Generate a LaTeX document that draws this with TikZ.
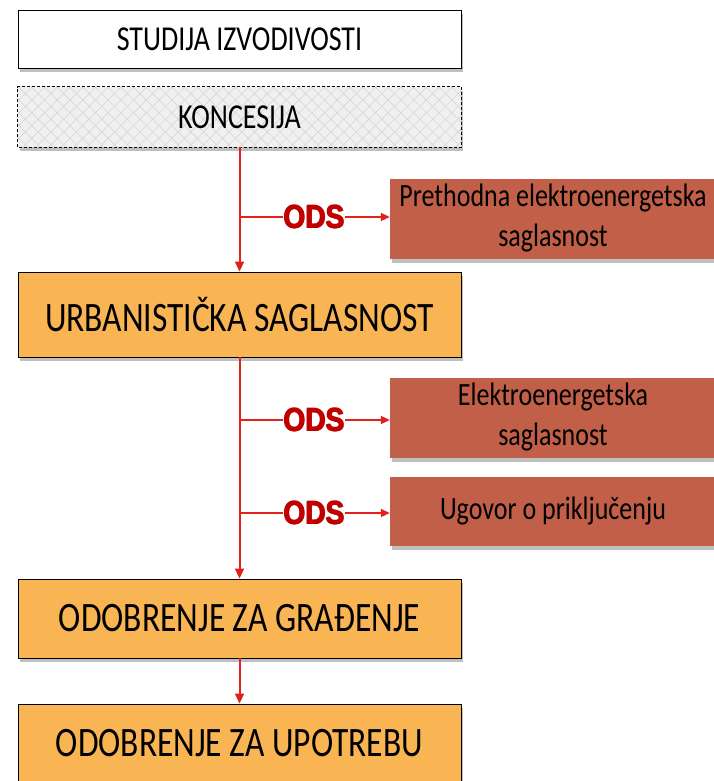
\documentclass[tikz,border=0pt]{standalone}
\usepackage{fontspec}
\setmainfont{Carlito}
\newfontfamily\odsfont{Liberation Sans}
\usetikzlibrary{shadows,patterns.meta,arrows.meta}
\definecolor{boxorange}{HTML}{F9B553}
\definecolor{boxred}{HTML}{C15F48}
\definecolor{arrred}{HTML}{E3211C}
\definecolor{odsred}{HTML}{C00000}
\newcommand\talltext[1]{\scalebox{1}[1.25]{#1}}
\newcommand\odsword{\odsfont\bfseries\fontsize{26}{26}\selectfont ODS}
\newcommand\odstext{\scalebox{1.08}[1.25]{\rlap{\odsword}\rlap{\kern0.6pt\odsword}\rlap{\kern0.3pt\raisebox{0.4pt}{\odsword}}\kern1.2pt\odsword}}
\begin{document}
\begin{tikzpicture}[x=1pt,y=-1pt,
  shadowed/.style={drop shadow={shadow xshift=2pt,shadow yshift=-4pt,opacity=0.25,fill=black}},
  mainbox/.style={shadowed,draw=black,line width=0.9pt,minimum width=443pt,inner sep=0pt,
    font=\fontsize{33.5}{36}\selectfont},
  smallbox/.style={mainbox,font=\fontsize{28}{32}\selectfont},
  redbox/.style={shadowed,fill=boxred,minimum width=326pt,inner sep=0pt,align=center,
    font=\fontsize{26}{32}\selectfont},
  flow/.style={draw=arrred,line width=2pt,-{Triangle[length=10pt,width=9pt]}},
  branch/.style={draw=arrred,line width=2pt},
  odslabel/.style={text=odsred,inner sep=0pt}]
\useasboundingbox (0,0) rectangle (714,781);
\clip (0,0) rectangle (714,781);

\node[smallbox,fill=white,minimum height=58pt] (s1) at (239.5,39) {\talltext{STUDIJA IZVODIVOSTI}};
\node[smallbox,fill=gray!12,draw=none,minimum height=60pt] (k) at (239.5,117) {};
\fill[pattern={Lines[angle=45,distance=9pt,line width=0.5pt]},pattern color=gray!35]
  (k.south west) rectangle (k.north east);
\fill[pattern={Lines[angle=-45,distance=9pt,line width=0.5pt]},pattern color=gray!35]
  (k.south west) rectangle (k.north east);
\draw[line width=0.9pt,dash pattern=on 3pt off 2pt] (k.south west) rectangle (k.north east);
\node[font=\fontsize{28}{32}\selectfont] (kt) at (k.center) {\talltext{KONCESIJA}};

\node[mainbox,fill=boxorange,minimum height=85pt] (u) at (239.5,314.5) {\talltext{URBANISTIČKA SAGLASNOST}};
\node[mainbox,fill=boxorange,minimum height=79pt] (g) at (239.5,618.5) {\talltext{ODOBRENJE ZA GRAĐENJE}};
\node[mainbox,fill=boxorange,minimum height=79pt] (p) at (239.5,743.5) {\talltext{ODOBRENJE ZA UPOTREBU}};

\node[redbox,minimum height=79pt] (r1) at (553,218.5) {\talltext{\begin{tabular}{@{}c@{}}Prethodna elektroenergetska\\saglasnost\end{tabular}}};
\node[redbox,minimum height=79pt] (r2) at (553,417.5) {\talltext{\begin{tabular}{@{}c@{}}Elektroenergetska\\saglasnost\end{tabular}}};
\node[redbox,minimum height=69pt] (r3) at (553,511.5) {\talltext{Ugovor o priključenju}};

\draw[flow] (k.south) -- (u.north);
\draw[flow] (u.south) -- (g.north);
\draw[flow] (g.south) -- (p.north);

\coordinate (b1) at (239.5,217);
\coordinate (b2) at (239.5,420);
\coordinate (b3) at (239.5,513);
\node[odslabel] (o1) at (314,217) {\odstext};
\node[odslabel] (o2) at (314,420) {\odstext};
\node[odslabel] (o3) at (314,513) {\odstext};
\foreach \i in {1,2,3}{
  \draw[branch] (b\i) -- (o\i.west);
  \draw[flow,-{Triangle[length=9pt,width=8pt]}] (o\i.east) -- (o\i.east -| r\i.west);
}
\end{tikzpicture}
\end{document}
